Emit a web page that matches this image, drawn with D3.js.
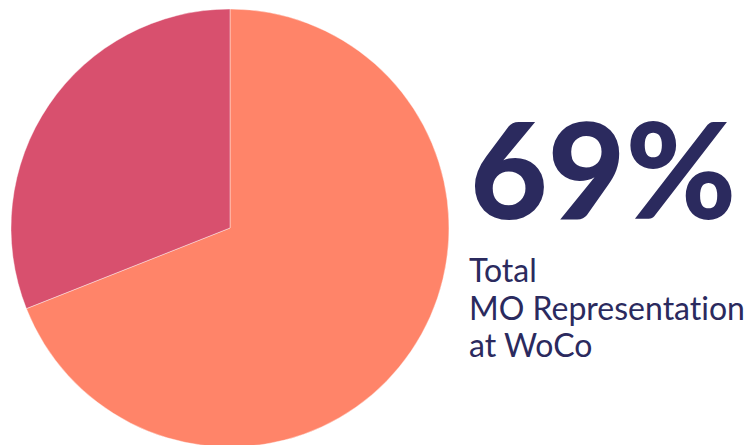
<!DOCTYPE html>
<html>
<head>
<meta charset="utf-8">
<script src="https://cdn.jsdelivr.net/npm/d3@7"></script>
<style>
  body { margin: 0; background: #fff; }
  svg { display: block; }
</style>
</head>
<body>
<div id="chart"></div>
<script>
var width = 751, height = 445;

// share of MO representation
var categories = ["MO", "Other"];
var values = [69, 31];
var colors = ["#FF8469", "#D8506E"];
var bigLabel = "69%";
var subLines = ["Total", "MO Representation", "at WoCo"];

var cx = 230, cy = 228, radius = 219;

var svg = d3.select("#chart")
  .append("svg")
  .attr("width", width)
  .attr("height", height);

var pie = d3.pie().sort(null).value(function(d) { return d; });
var arc = d3.arc().innerRadius(0).outerRadius(radius);

var g = svg.append("g")
  .attr("transform", "translate(" + cx + "," + cy + ")");

g.selectAll("path")
  .data(pie(values))
  .enter()
  .append("path")
  .attr("d", arc)
  .attr("fill", function(d, i) { return colors[i]; })
  .attr("stroke", "#fff")
  .attr("stroke-opacity", 0.4)
  .attr("stroke-width", 1);

// big number
svg.append("text")
  .attr("x", 470)
  .attr("y", 219)
  .style("font-family", "Lato")
  .style("font-weight", 900)
  .style("font-size", "134px")
  .style("fill", "#2B2A5E")
  .text(bigLabel);

// caption
svg.append("text")
  .attr("x", 469)
  .attr("y", 282)
  .style("font-family", "Lato")
  .style("font-size", "32px")
  .style("font-variant-ligatures", "none")
  .style("fill", "#2B2A5E")
  .selectAll("tspan")
  .data(subLines)
  .enter()
  .append("tspan")
  .attr("x", 469)
  .attr("dy", function(d, i) { return i ? 37.5 : 0; })
  .text(function(d) { return d; });
</script>
</body>
</html>
